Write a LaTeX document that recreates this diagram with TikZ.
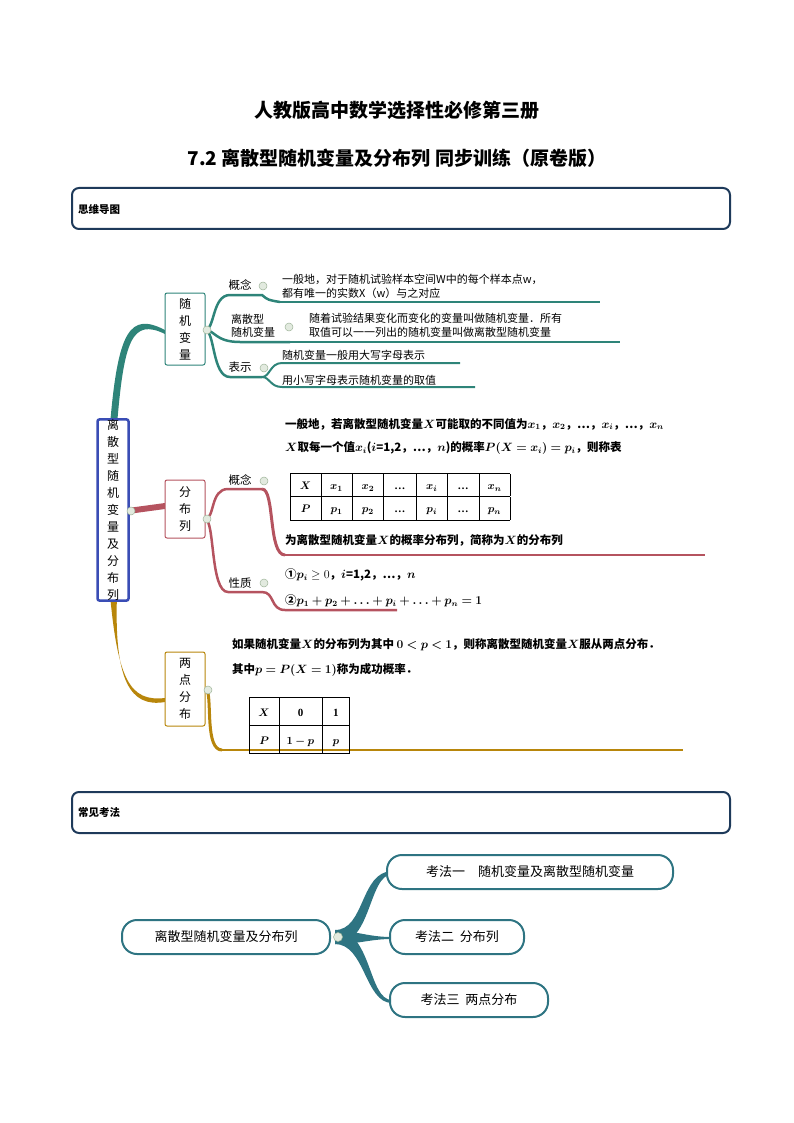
\documentclass[tikz,border=0pt]{standalone}
\usepackage{fontspec}
\usepackage{amsmath,bm,array}
\newfontfamily\cjk{Noto Sans CJK SC}
\setmainfont{Liberation Serif}
\newcolumntype{C}[1]{>{\centering\arraybackslash}p{#1}}
\begin{document}
\begin{tikzpicture}[x=1pt,y=-1pt,
 every node/.style={font=\cjk\fontsize{11.5}{14}\selectfont,inner sep=0pt},
 sec/.style={draw=secc,line width=2pt,rounded corners=7pt},
 vbox/.style={draw,line width=1pt,rounded corners=2pt,fill=white,align=center,font=\cjk\fontsize{12}{17}\selectfont},
 dot/.style={circle,fill=dotc,draw=dotb,line width=0.5pt,minimum size=8pt},
 bt/.style={font=\cjk\bfseries\fontsize{11.5}{14}\selectfont,anchor=west},
 kbox/.style={draw=teal2,line width=2pt,rounded corners=15pt,fill=white,inner xsep=14pt,minimum height=34pt,font=\cjk\fontsize{13}{15}\selectfont}]
\definecolor{secc}{HTML}{1E3A5A}\definecolor{tealc}{HTML}{2E8479}\definecolor{redc}{HTML}{B5535F}
\definecolor{goldc}{HTML}{B8860B}\definecolor{blueb}{HTML}{3A4DB5}\definecolor{dotc}{HTML}{E2EADF}\definecolor{dotb}{HTML}{9FB59A}\definecolor{teal2}{HTML}{2E7482}
\useasboundingbox (0,0) rectangle (794,1123);
\node[font=\cjk\bfseries\fontsize{19}{22}\selectfont] (t1) at (397,110) {人教版高中数学选择性必修第三册};
\node[font=\cjk\bfseries\fontsize{19}{22}\selectfont] (t2) at (397,158) {7.2 离散型随机变量及分布列\ 同步训练（原卷版）};
\draw[sec] (72,188) rectangle (730,229);
\node[bt,font=\cjk\bfseries\fontsize{10.5}{12}\selectfont] (s1) at (78,209) {思维导图};
\draw[sec] (72,792) rectangle (730,833);
\node[bt,font=\cjk\bfseries\fontsize{10.5}{12}\selectfont] (s2) at (78,813) {常见考法};
% main branches
\fill[tealc] (110,425) .. controls (118,330) and (130,312) .. (165,330) -- (165,334) .. controls (132,318) and (124,340) .. (117,425) -- cycle;
\fill[redc] (128,508) -- (165,503) -- (165,509) -- (128,514) -- cycle;
\fill[goldc] (110,595) .. controls (118,680) and (130,702) .. (165,698) -- (165,702) .. controls (130,708) and (114,680) .. (117,595) -- cycle;
\node[draw=blueb,line width=2.5pt,rounded corners=2pt,fill=white,minimum width=31pt,minimum height=180pt,align=center,font=\cjk\fontsize{12}{17}\selectfont] (root) at (113,510) {离\\散\\型\\随\\机\\变\\量\\及\\分\\布\\列};
\node[dot] (rd) at (131,511) {};
% sub branches teal
\draw[tealc,line width=2.5pt] (205,330) .. controls (215,330) and (212,295) .. (230,295) -- (262,295) .. controls (268,300) .. (280,302);
\draw[tealc,line width=1.2pt] (280,302) -- (600,302);
\draw[tealc,line width=2.5pt] (205,330) .. controls (215,330) and (215,342) .. (240,342) -- (290,342);
\draw[tealc,line width=1.2pt] (290,342) -- (620,342);
\draw[tealc,line width=2.5pt] (205,330) .. controls (215,330) and (212,377) .. (230,377) -- (262,377);
\draw[tealc,line width=2pt] (262,377) .. controls (270,377) and (270,363) .. (282,363) -- (460,363);
\draw[tealc,line width=2pt] (262,377) .. controls (270,377) and (270,387) .. (282,387) -- (475,387);
\node[vbox,draw=tealc,minimum width=40pt,minimum height=72pt] (b1) at (185,329) {随\\机\\变\\量};
\node[dot] (d1) at (207,330) {};
\node (c1) at (240,285) {概念};
\node[align=left,font=\cjk\fontsize{11}{13}\selectfont] (c2) at (253,326) {离散型\\随机变量};
\node (c3) at (240,367) {表示};
\node[dot] (d2) at (263,286) {};\node[dot] (d3) at (289,327) {};\node[dot] (d4) at (264,368) {};
\node[anchor=west,align=left,font=\cjk\fontsize{11}{14}\selectfont] (x1) at (282,286) {一般地，对于随机试验样本空间W中的每个样本点w，\\都有唯一的实数X（w）与之对应};
\node[anchor=west,align=left,font=\cjk\fontsize{11}{14}\selectfont] (x2) at (309,325) {随着试验结果变化而变化的变量叫做随机变量．所有\\取值可以一一列出的随机变量叫做离散型随机变量};
\node[anchor=west,font=\cjk\fontsize{11}{14}\selectfont] (x3) at (282,355) {随机变量一般用大写字母表示};
\node[anchor=west,font=\cjk\fontsize{11}{14}\selectfont] (x4) at (282,380) {用小写字母表示随机变量的取值};
% red
\draw[redc,line width=2.5pt] (205,519) .. controls (215,519) and (210,489) .. (228,489) -- (262,489);
\draw[redc,line width=3pt] (262,489) .. controls (275,489) and (268,555) .. (285,555);
\draw[redc,line width=1.2pt] (285,555) -- (705,555);
\draw[redc,line width=2.5pt] (205,519) .. controls (215,519) and (210,592) .. (228,592) -- (262,592);
\draw[redc,line width=2.5pt] (262,592) .. controls (275,592) and (270,610) .. (285,610) -- (397,610);
\node[vbox,draw=redc,minimum width=40pt,minimum height=58pt] (b2) at (185,509) {分\\布\\列};
\node[dot] (d5) at (207,519) {};
\node (c4) at (240,480) {概念};\node[dot] (d6) at (264,481) {};
\node (c5) at (240,583) {性质};\node[dot] (d7) at (264,583) {};
\node[bt] (y1) at (285,424) {一般地，若离散型随机变量$\bm X$可能取的不同值为$\bm{x_1}$，$\bm{x_2}$，…，$\bm{x_i}$，…，$\bm{x_n}$};
\node[bt] (y2) at (285,448) {$\bm X$取每一个值$\bm{x_i}$($\bm i$=1,2，…，$\bm n$)的概率$\bm{P(X=x_i)=p_i}$，则称表};
\node[anchor=north west,font=\fontsize{11}{13}\selectfont] (tab1) at (290,473) {\setlength\tabcolsep{0pt}\renewcommand\arraystretch{1.75}\begin{tabular}{|C{30pt}|C{31pt}|C{31pt}|C{32pt}|C{31pt}|C{31pt}|C{31pt}|}\hline
$\bm X$ & $\bm{x_1}$ & $\bm{x_2}$ & \textbf{…} & $\bm{x_i}$ & \textbf{…} & $\bm{x_n}$\\\hline
$\bm P$ & $\bm{p_1}$ & $\bm{p_2}$ & \textbf{…} & $\bm{p_i}$ & \textbf{…} & $\bm{p_n}$\\\hline\end{tabular}};
\node[bt] (y3) at (285,540) {为离散型随机变量$\bm X$的概率分布列，简称为$\bm X$的分布列};
\node[bt] (y4) at (285,575) {①$\bm{p_i}\geq 0$，$\bm i$=1,2，…，$\bm n$};
\node[bt] (y5) at (285,601) {②$\bm{p_1+p_2+\ldots+p_i+\ldots+p_n=1}$};
% gold
\draw[goldc,line width=3pt] (207,690) .. controls (212,700) and (205,750) .. (222,750);
\draw[goldc,line width=1.2pt] (222,750) -- (683,750);
\node[vbox,draw=goldc,minimum width=40pt,minimum height=74pt] (b3) at (185,689) {两\\点\\分\\布};
\node[dot] (d8) at (208,690) {};
\node[bt] (z1) at (232,645) {如果随机变量$\bm X$的分布列为其中 $\bm{0<p<1}$，则称离散型随机变量$\bm X$服从两点分布．};
\node[bt] (z2) at (232,670) {其中$\bm{p=P(X=1)}$称为成功概率．};
\node[anchor=north west,font=\fontsize{11}{13}\selectfont] (tab2) at (249,697) {\setlength\tabcolsep{0pt}\renewcommand\arraystretch{2.1}\begin{tabular}{|C{29pt}|C{43pt}|C{27pt}|}\hline
$\bm X$ & \textbf{0} & \textbf{1}\\\hline
$\bm P$ & $\bm{1-p}$ & $\bm p$\\\hline\end{tabular}};
% bottom map
\fill[teal2] (335,930) .. controls (365,930) and (360,872) .. (392,871) -- (392,874) .. controls (368,876) and (372,944) .. (335,944) -- cycle;
\fill[teal2] (335,930) .. controls (360,932) and (370,937) .. (392,937) -- (392,939) .. controls (370,939) and (360,944) .. (335,944) -- cycle;
\fill[teal2] (335,930) .. controls (372,930) and (368,1000) .. (392,1000) -- (392,1003) .. controls (365,1003) and (365,944) .. (335,944) -- cycle;
\node[kbox,minimum width=208pt] (k0) at (226,937) {离散型随机变量及分布列};
\node[dot,minimum size=9pt] (kd) at (338,937) {};
\node[kbox,minimum width=286pt] (k1) at (530,872) {考法一\quad 随机变量及离散型随机变量};
\node[kbox,minimum width=134pt] (k2) at (457,937) {考法二\ \ 分布列};
\node[kbox,minimum width=158pt] (k3) at (469,1000) {考法三\ \ 两点分布};
\end{tikzpicture}
\end{document}
